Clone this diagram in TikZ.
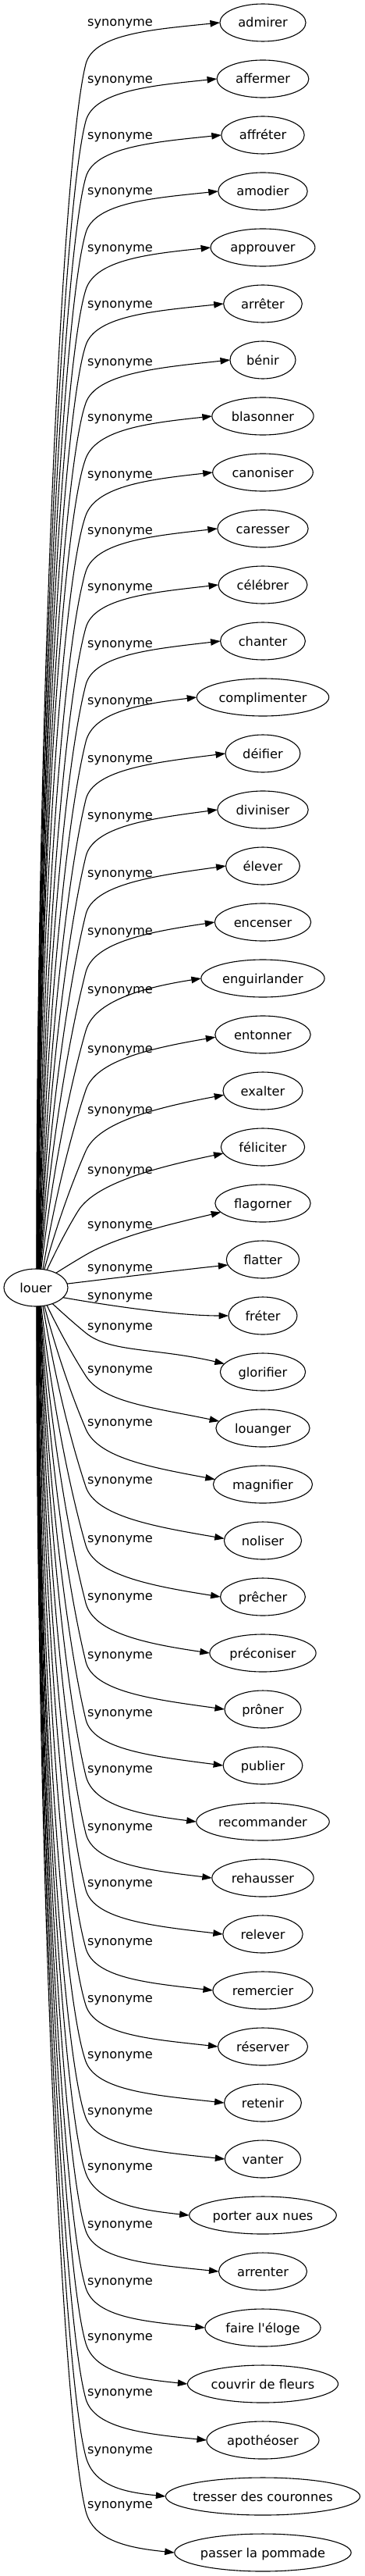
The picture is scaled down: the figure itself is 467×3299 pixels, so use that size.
\documentclass[tikz,border=0pt]{standalone}
\usepackage{fontspec}
\newfontfamily\dvs{DejaVu Sans}
\newcommand\myfont{\dvs\fontsize{16.2}{19}\selectfont}
\usetikzlibrary{arrows.meta,shapes.geometric,calc}
\newdimen\qdx
\newdimen\qdy
\newcommand\qlist{0/admirer/28, 1/affermer/101, 2/affréter/173, 3/amodier/244, 4/approuver/317, 5/arrêter/388, 6/bénir/462, 7/blasonner/533, 8/canoniser/606, 9/caresser/678, 10/célébrer/750, 11/chanter/823, 12/complimenter/896, 13/déifier/970, 14/diviniser/1043, 15/élever/1117, 16/encenser/1191, 17/enguirlander/1266, 18/entonner/1342, 19/exalter/1420, 20/féliciter/1497, 21/flagorner/1567, 22/flatter/1622, 23/fréter/1658, 24/glorifier/1697, 25/louanger/1752, 26/magnifier/1820, 27/noliser/1894, 28/prêcher/1969, 29/préconiser/2043, 30/prôner/2118, 31/publier/2192, 32/recommander/2264, 33/rehausser/2338, 34/relever/2410, 35/remercier/2485, 36/réserver/2558, 37/retenir/2630, 38/vanter/2702, 39/porter aux nues/2773, 40/arrenter/2847, 41/faire l'éloge/2920, 42/couvrir de fleurs/2991, 43/apothéoser/3062, 44/tresser des couronnes/3136, 45/passer la pommade/3206}
\begin{document}%
\foreach \i/\txt/\ly in \qlist {%
  \setbox0=\hbox{\myfont \txt}%
  \expandafter\xdef\csname qw\i\endcsname{\the\wd0}%
}%
\begin{tikzpicture}[x=1pt,y=1pt,
  every node/.style={font=\myfont, text height=12pt, text depth=0pt, inner sep=0pt, outer sep=0pt},
  ell/.style={draw, ellipse, line width=1.1pt, minimum height=48pt},
  edge/.style={line width=1.1pt, -{Triangle[length=12.5pt,width=8.5pt]}}]
\useasboundingbox (0,0) rectangle (467,-3299);
\node[ell, minimum width=82pt] (louer) at (46,-1649) {\makebox[0pt]{louer}};
\foreach \i/\txt/\ly in \qlist {
  \pgfmathsetmacro\qew{1.2*\csname qw\i\endcsname+34}
  \pgfmathsetmacro\qtyc{29+72*\i}
  \node[ell, minimum width=\qew pt] (t\i) at (337,-\qtyc) {\makebox[0pt]{\txt}};
  \node (l\i) at (154,-\ly) {synonyme};
}
\foreach \i/\wy/\dx/\wx in {0/82/1.0/110, 1/155/1.3/110, 2/227/1.6/110, 3/298/1.9/110, 4/371/2.2/110, 5/442/2.5/110, 6/516/2.8/110, 7/587/3.1/110, 8/660/3.4/110, 9/732/3.7/110, 10/804/4.0/110, 11/877/4.3/110, 12/950/4.6/110, 13/1024/4.9/110, 14/1097/5.2/110, 15/1171/5.5/110, 16/1245/5.8/110, 17/1320/7/110, 18/1396/9/110, 19/1474/11/110, 20/1551/14/100, 21/1607/26/110, 24/1707/21/110, 25/1762/14/110, 26/1830/11/110, 27/1904/9/110, 28/1979/7/110, 29/2053/5.8/110, 30/2128/5.5/110, 31/2202/5.2/110, 32/2274/4.9/110, 33/2348/4.6/110, 34/2420/4.3/110, 35/2495/4.0/110, 36/2568/3.7/110, 37/2640/3.4/110, 38/2712/3.1/110, 39/2783/2.8/110, 40/2857/2.5/110, 41/2930/2.2/110, 42/3001/1.9/110, 43/3072/1.6/110, 44/3146/1.3/110, 45/3216/1.0/110}{
  \pgfmathsetmacro\qu{ifthenelse(\i<22.5,1,-1)}
  \pgfmathsetmacro\qtyc{29+72*\i}
  \pgfmathsetmacro\qaa{atan2(24*sqrt(1-(\dx/41)^2),\dx)}
  \pgfmathtruncatemacro\qsa{round(ifthenelse(\qu>0,\qaa,360-\qaa))}
  \pgfmathtruncatemacro\qta{round(180+\qu*max(0,16-abs(\qtyc-1649)/25))}
  \pgfextractx{\qdx}{\pgfpointanchor{louer}{\qsa}}
  \pgfextracty{\qdy}{\pgfpointanchor{louer}{\qsa}}
  \pgfmathsetmacro\qSx{\qdx}
  \pgfmathsetmacro\qSy{\qdy}
  \pgfextractx{\qdx}{\pgfpointanchor{t\i}{\qta}}
  \pgfextracty{\qdy}{\pgfpointanchor{t\i}{\qta}}
  \pgfmathsetmacro\qTx{\qdx}
  \pgfmathsetmacro\qTy{\qdy}
  \pgfmathsetmacro\qWx{\wx}
  \pgfmathsetmacro\qWy{-\wy}
  \pgfmathsetmacro\qd{abs(\qWy-\qSy)}
  \pgfmathsetmacro\qg{min(1,\qd/1000)}
  \pgfmathsetmacro\qCax{\qSx+(1-\qg)*(\qWx-\qSx)/3}
  \pgfmathsetmacro\qCay{\qSy+(1-\qg)*(\qWy-\qSy)/3+\qg*\qu*0.47*\qd}
  \pgfmathsetmacro\qCbx{\qWx+(1-\qg)*(\qSx-\qWx)/3-\qg*30}
  \pgfmathsetmacro\qCby{\qWy+(1-\qg)*(\qSy-\qWy)/3-\qg*\qu*0.076*\qd}
  \pgfmathsetmacro\qtl{veclen(\qWx-\qCbx,\qWy-\qCby)}
  \pgfmathsetmacro\qCcx{\qWx+40*(\qWx-\qCbx)/\qtl}
  \pgfmathsetmacro\qCcy{\qWy+40*(\qWy-\qCby)/\qtl}
  \pgfmathsetmacro\qdX{\qTx-\qWx}
  \pgfmathsetmacro\qsl{0.1+0.18*exp(-abs(\qtyc-1649)/350)}
  \pgfmathsetmacro\qCdx{\qTx-0.5*\qdX}
  \pgfmathsetmacro\qCdy{\qTy-\qu*0.5*\qdX*\qsl}
  \coordinate (w\i) at (\qWx,\qWy);
  \draw[edge] (louer.\qsa) .. controls (\qCax,\qCay) and (\qCbx,\qCby) .. (w\i) .. controls (\qCcx,\qCcy) and (\qCdx,\qCdy) .. (t\i.\qta);
}
\draw[edge] (louer.7) .. controls ($(louer.7)+(50,6)$) and ($(t22.189)+(-50,-5)$) .. (t22.189);
\draw[edge] (louer.340) .. controls ($(louer.340)+(45,-8)$) and ($(t23.west)+(-70,0)$) .. (t23.west);
\end{tikzpicture}%
\end{document}
